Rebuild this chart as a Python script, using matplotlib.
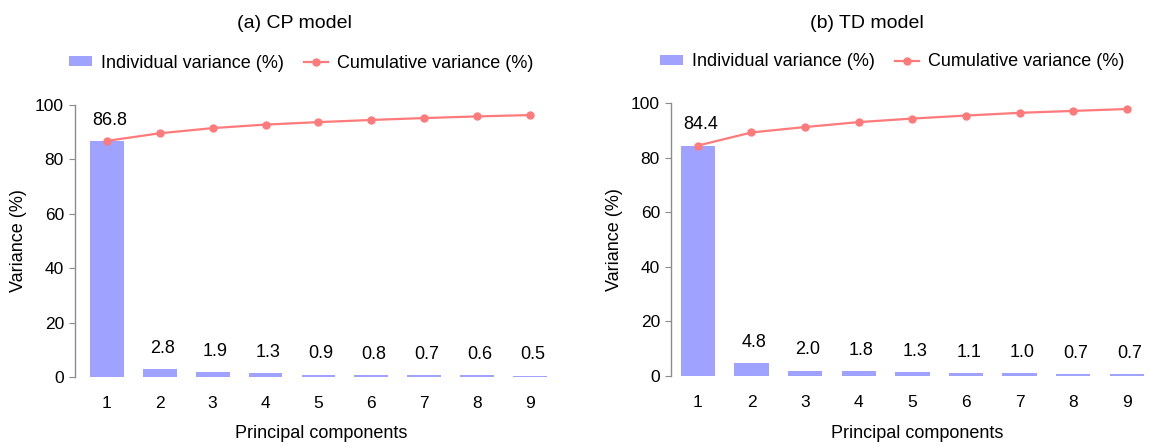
import numpy as np
import matplotlib.pyplot as plt
from matplotlib.patches import Patch
from matplotlib.lines import Line2D

plt.rcParams['font.family'] = ['Liberation Sans', 'DejaVu Sans']

components = [1, 2, 3, 4, 5, 6, 7, 8, 9]

cp_individual = [86.8, 2.8, 1.9, 1.3, 0.9, 0.8, 0.7, 0.6, 0.5]
cp_cumulative = [86.8, 89.6, 91.5, 92.8, 93.7, 94.5, 95.2, 95.8, 96.3]

td_individual = [84.4, 4.8, 2.0, 1.8, 1.3, 1.1, 1.0, 0.7, 0.7]
td_cumulative = [84.4, 89.2, 91.2, 93.0, 94.3, 95.4, 96.4, 97.1, 97.8]

titles = ["(a) CP model", "(b) TD model"]
legend_labels = ["Individual variance (%)", "Cumulative variance (%)"]

bar_color = "#9fa2ff"
line_color = "#ff7a7a"
spine_color = "#8c8c8c"

W, H = 1153, 445
fig = plt.figure(figsize=(W / 100, H / 100), dpi=100)

# axes boxes in pixels: left, top, right, bottom
boxes = [(75, 105, 555, 377), (671, 103, 1151, 376)]
xlims = [(0.4, 9.47), (0.5, 9.45)]
title_pos = [(294, 23), (867, 23)]
legend_pos = [(301, 63), (892, 62)]


def draw_panel(box, xlim, individual, cumulative, title, tpos, lpos):
    l, t, r, b = box
    ax = fig.add_axes([l / W, 1 - b / H, (r - l) / W, (b - t) / H])
    x = np.array(components)
    ax.bar(x, individual, width=0.64, color=bar_color, zorder=1)
    ax.plot(x, cumulative, color=line_color, lw=1.6, marker="o", ms=5, zorder=3)
    for xi, v in zip(x, individual):
        ax.text(xi + 0.05, v + 7.6, f"{v:.1f}", ha="center", va="center", fontsize=13)

    ax.set_xlim(*xlim)
    ax.set_ylim(0, 100)
    ax.set_xticks(x)
    ax.set_yticks([0, 20, 40, 60, 80, 100])
    ax.tick_params(axis="x", length=0, pad=14, labelsize=12.5)
    ax.tick_params(axis="y", length=4, width=0.8, color=spine_color, labelsize=12.5, pad=4)
    for s in ["top", "right", "bottom"]:
        ax.spines[s].set_visible(False)
    ax.spines["left"].set_color(spine_color)
    ax.spines["left"].set_linewidth(1.0)
    ax.set_ylabel("Variance (%)", fontsize=13, labelpad=6)
    ax.set_xlabel("Principal components", fontsize=13, va="center")
    ax.xaxis.set_label_coords(0.513, -(434 - b) / (b - t))

    fig.text(tpos[0] / W, 1 - tpos[1] / H, title, ha="center", va="center", fontsize=14)

    handles = [
        Patch(facecolor=bar_color, edgecolor="none"),
        Line2D([], [], color=line_color, lw=1.6, marker="o", ms=5),
    ]
    fig.legend(handles, legend_labels, loc="center",
               bbox_to_anchor=(lpos[0] / W, 1 - lpos[1] / H), ncol=2, frameon=False,
               fontsize=13, handlelength=1.3, handleheight=0.5, columnspacing=1.1,
               handletextpad=0.5, borderpad=0, borderaxespad=0)
    return ax


for i, (ind, cum) in enumerate([(cp_individual, cp_cumulative), (td_individual, td_cumulative)]):
    draw_panel(boxes[i], xlims[i], ind, cum, titles[i], title_pos[i], legend_pos[i])

fig.savefig("out.png", dpi=100)
